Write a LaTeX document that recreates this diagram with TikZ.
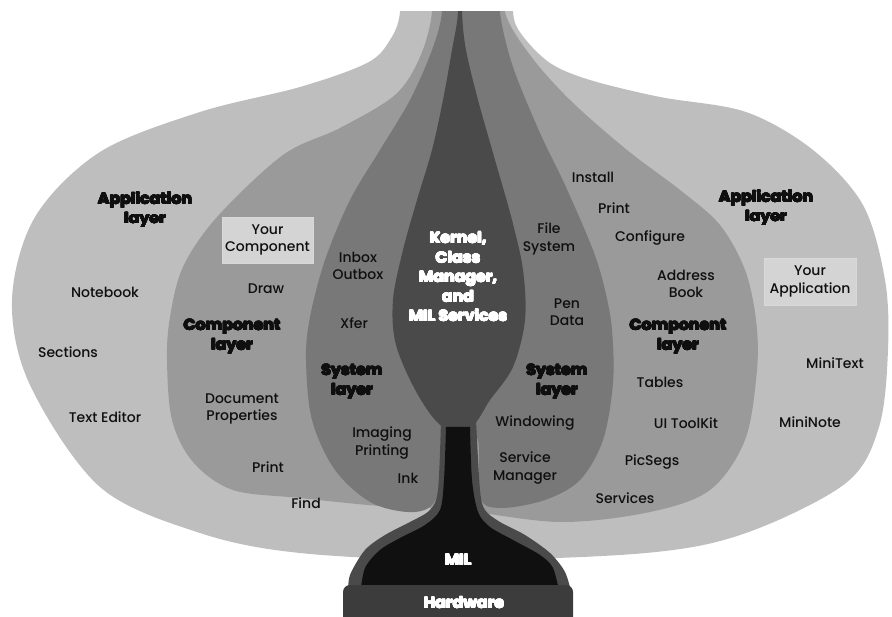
\documentclass[tikz,border=0pt]{standalone}
\usepackage{fontspec}
\usepackage[copies]{contour}
\contourlength{0.45pt}
\contournumber{16}
\IfFontExistsTF{Poppins Medium}%
  {\setmainfont{Poppins Medium}}%
  {\setmainfont{Poppins}[FakeBold=0.5]}
\newfontfamily\heavyfont{Poppins}[FakeStretch=1.05]
\newcommand\heavy{\heavyfont\bfseries}
\newcommand\hk[1]{\contour{ink}{#1}}
\newcommand\hw[1]{\contour{white}{#1}}
\definecolor{appc}{RGB}{190,190,190}
\definecolor{compc}{RGB}{154,154,154}
\definecolor{sysc}{RGB}{120,120,120}
\definecolor{kernc}{RGB}{74,74,74}
\definecolor{milc}{RGB}{16,16,16}
\definecolor{hwc}{RGB}{60,60,60}
\definecolor{boxc}{RGB}{212,212,212}
\definecolor{ink}{RGB}{15,15,15}
\tikzset{
  lbl/.style={font=\fontsize{14}{17.5}\selectfont, text=ink, align=center, inner sep=0pt},
  hv/.style={font=\fontsize{15}{19.5}\selectfont\heavy, text=ink, align=center, inner sep=0pt},
  wt/.style={hv, text=white},
  ybox/.style={lbl, fill=boxc, draw=white!85!black, line width=0.5pt},
  layer/.style={smooth cycle, tension=0.55}
}
\begin{document}
\begin{tikzpicture}[x=1pt,y=-1pt]
\useasboundingbox (0,0) rectangle (892,617);
\begin{scope}
\clip (0,12) rectangle (892,617);
% application layer
\fill[appc] plot[layer] coordinates {(398,-40) (400,12) (390,40) (367,63) (300,87) (200,112) (100,152) (35,217) (12,300) (30,385) (100,487) (200,533) (300,553) (458,560) (646,553) (746,533) (846,483) (879,427) (888,350) (885,280) (863,205) (813,150) (746,112) (660,97) (590,80) (550,63) (522,35) (513,12) (515,-40)};
% component layer
\fill[compc] plot[layer] coordinates {(430,-40) (432,12) (420,57) (395,95) (340,128) (283,155) (217,217) (183,267) (170,317) (167,360) (172,420) (193,462) (233,490) (300,498) (380,506) (458,510) (560,522) (650,512) (710,490) (745,440) (757,370) (756,320) (745,270) (720,225) (680,190) (627,150) (570,100) (530,55) (505,12) (505,-40)};
% system layer
\fill[sysc] plot[layer] coordinates {(442,-40) (442,12) (432,50) (410,100) (380,150) (350,200) (325,260) (310,317) (306,360) (312,420) (335,470) (372,503) (415,512) (437,497) (445,440) (460,430) (478,440) (480,497) (500,508) (545,500) (580,480) (603,440) (613,383) (612,330) (605,290) (593,250) (565,185) (540,133) (513,67) (500,13) (498,-40)};
% kernel
\fill[kernc] plot[layer] coordinates {(458,-40) (458,12) (452,50) (443,100) (432,150) (417,200) (403,250) (393,300) (396,345) (418,395) (443,427) (471,427) (490,400) (513,367) (525,320) (523,270) (512,220) (495,160) (478,100) (466,50) (462,12) (462,-40)};
% collar around the stem
\fill[kernc] plot[smooth, tension=0.5] coordinates {(441,420) (438,490) (430,510) (410,522) (385,535) (365,550) (350,575) (348,595)}
  -- plot[smooth, tension=0.5] coordinates {(572,595) (565,572) (550,553) (525,535) (500,522) (485,510) (480,490) (476,420)} -- cycle;
% MIL stem
\fill[milc] plot[smooth, tension=0.5] coordinates {(446,427) (444,480) (440,510) (425,525) (400,538) (380,550) (365,568) (360,595)}
  -- plot[smooth, tension=0.5] coordinates {(560,595) (553,568) (540,555) (513,540) (490,527) (478,512) (472,480) (470,427)} -- cycle;
\end{scope}
% hardware block
\node[draw=none, fill=hwc, rounded corners=7pt, minimum width=230pt, minimum height=40pt, inner sep=0pt] (hwbox) at (458,605) {};
% text boxes
\node[ybox, minimum width=91pt, minimum height=46pt] (ycomp) at (267.5,240) {Your\\Component};
\node[ybox, minimum width=92pt, minimum height=47pt] (yapp) at (810,281.5) {Your\\Application};
% heavy labels
\node[hv] (appL) at (145,210) {\hk{Application}\\\hk{layer}};
\node[hv] (appR) at (766,208) {\hk{Application}\\\hk{layer}};
\node[hv] (compL) at (232,337) {\hk{Component}\\\hk{layer}};
\node[hv] (compR) at (678,337) {\hk{Component}\\\hk{layer}};
\node[hv] (sysL) at (352,382) {\hk{System}\\\hk{layer}};
\node[hv] (sysR) at (557,382) {\hk{System}\\\hk{layer}};
\node[wt] (kern) at (458,277) {\hw{Kernel,}\\\hw{Class}\\\hw{Manager,}\\\hw{and}\\\hw{MIL Services}};
\node[wt] (mil) at (458,560) {\hw{MIL}};
\node[wt] (hw) at (464,603) {\hw{Hardware}};
% regular labels
\node[lbl] (notebook) at (105,292) {Notebook};
\node[lbl] (draw) at (266,289) {Draw};
\node[lbl] (inbox) at (358,266) {Inbox\\Outbox};
\node[lbl] (filesys) at (549,239) {File\\System};
\node[lbl] (install) at (593,177) {Install};
\node[lbl] (printR) at (614,208) {Print};
\node[lbl] (configure) at (650,238) {Configure};
\node[lbl] (address) at (686,284) {Address\\Book};
\node[lbl] (pen) at (567,312) {Pen\\Data};
\node[lbl] (xfer) at (354,323) {Xfer};
\node[lbl] (sections) at (68,352) {Sections};
\node[lbl] (docprops) at (242,409) {Document\\Properties};
\node[lbl] (texted) at (105,417) {Text Editor};
\node[lbl] (imaging) at (382,443) {Imaging\\Printing};
\node[lbl] (printL) at (268,467) {Print};
\node[lbl] (inkL) at (408,478) {Ink};
\node[lbl] (find) at (306,503) {Find};
\node[lbl] (minitext) at (835,363) {MiniText};
\node[lbl] (tables) at (660,382) {Tables};
\node[lbl] (windowing) at (535,423) {Windowing};
\node[lbl] (uitk) at (686,423) {UI ToolKit};
\node[lbl] (mininote) at (810,422) {MiniNote};
\node[lbl] (svcmgr) at (525,468) {Service\\Manager};
\node[lbl] (picsegs) at (652,462) {PicSegs};
\node[lbl] (services) at (625,498) {Services};
\end{tikzpicture}
\end{document}
